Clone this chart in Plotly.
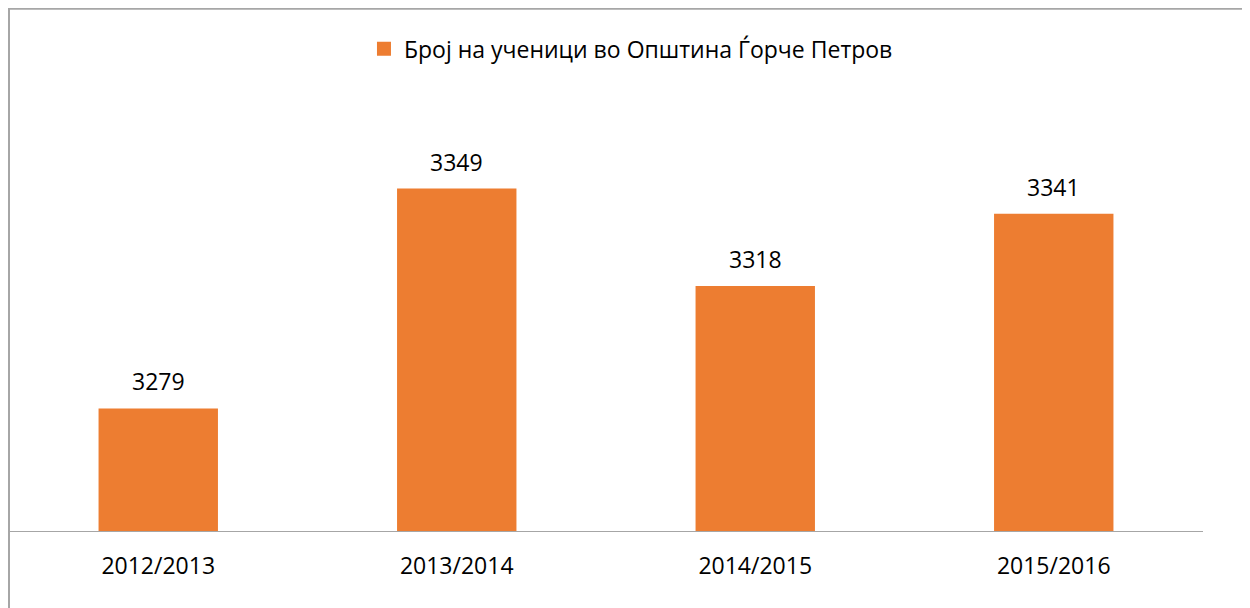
"""Bar chart: number of pupils in Gjorče Petrov municipality"""

import plotly.graph_objects as go

years = ["2012/2013", "2013/2014", "2014/2015", "2015/2016"]
pupils = [3279, 3349, 3318, 3341]
series_name = "Број на ученици во Општина Ѓорче Петров"

BAR_COLOR = "#ED7D31"
FONT = "Open Sans"

fig = go.Figure()
fig.add_trace(go.Bar(x=years, y=pupils, name=series_name, marker_color=BAR_COLOR, marker_line_width=0,
                     showlegend=False))
# legend entry with a larger square key (Excel-style)
fig.add_trace(go.Scatter(x=[None], y=[None], mode="markers", name=series_name,
                         marker=dict(symbol="square", size=14, color=BAR_COLOR)))

# value labels above bars
for yr, val in zip(years, pupils):
    fig.add_annotation(x=yr, y=val, text=str(val), showarrow=False, yanchor="bottom", yshift=9,
                       font=dict(family=FONT, size=23, color="#000000"))

# chart-area border (only left/top visible in the frame)
fig.add_shape(type="rect", xref="paper", yref="paper", x0=0, y0=-0.3, x1=1.1, y1=1.385,
              line=dict(color="#A6A6A6", width=2), fillcolor="rgba(0,0,0,0)", layer="below")

fig.update_layout(
    width=1250, height=608,
    margin=dict(l=1, r=55, t=146, b=85),
    paper_bgcolor="white", plot_bgcolor="white",
    bargap=0.6,
    showlegend=True,
    legend=dict(orientation="h", x=0.2973, xanchor="left", y=1.279, yanchor="middle",
                font=dict(family=FONT, size=23, color="#000000"), itemwidth=30),
    font=dict(family=FONT, size=23, color="#000000"),
    xaxis=dict(showline=True, linecolor="#A6A6A6", linewidth=1, ticks="", showgrid=False,
               tickfont=dict(family=FONT, size=23), ticklabelstandoff=14),
    yaxis=dict(range=[3240, 3360], visible=False, showgrid=False, zeroline=False),
)

fig.write_html("out.html")
